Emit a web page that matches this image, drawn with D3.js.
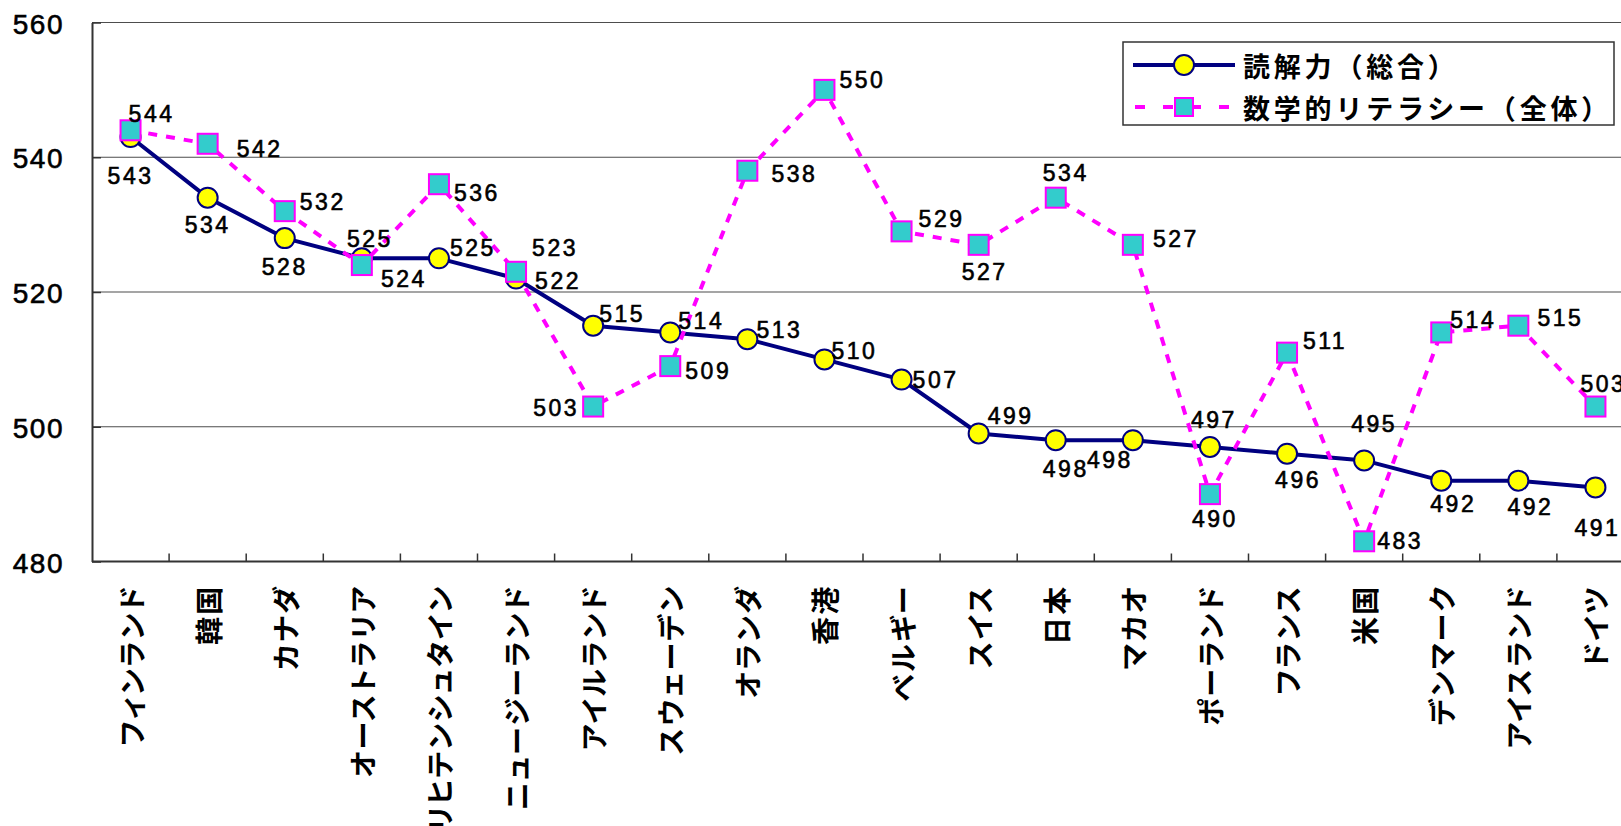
<!DOCTYPE html>
<html>
<head>
<meta charset="utf-8">
<script src="https://cdn.jsdelivr.net/npm/d3@7"></script>
<style>
  html, body { margin: 0; padding: 0; background: #fff; }
  svg { display: block; }
  .cat-label { font-feature-settings: "palt" 1; }
</style>
</head>
<body>
<svg id="chart" width="1621" height="826"></svg>
<script>
// PISA 2003: reading (overall) and mathematical literacy (overall) scores by country
const countries = [
  "フィンランド", "韓国", "カナダ", "オーストラリア", "リヒテンシュタイン",
  "ニュージーランド", "アイルランド", "スウェーデン", "オランダ", "香港",
  "ベルギー", "スイス", "日本", "マカオ", "ポーランド",
  "フランス", "米国", "デンマーク", "アイスランド", "ドイツ"
];
const readingScores = [543, 534, 528, 525, 525, 522, 515, 514, 513, 510,
                       507, 499, 498, 498, 497, 496, 495, 492, 492, 491];
const mathScores = [544, 542, 532, 524, 536, 523, 503, 509, 538, 550,
                    529, 527, 534, 527, 490, 511, 483, 514, 515, 503];
const yTicks = [480, 500, 520, 540, 560];
const seriesNames = ["読解力（総合）", "数学的リテラシー（全体）"];

// Label placement relative to each marker (px), so labels avoid the lines
const readingLabelOffsets = [
  [0, 39], [0, 27], [0, 29], [8, -19], [34, -10], [42, 2], [29, -12], [31, -11],
  [32, -9], [30, -8], [34, 0], [32, -17], [10, 29], [-23, 20], [4, -27], [11, 26],
  [10, -36], [12, 23], [12, 26], [2, 41]
];
const mathLabelOffsets = [
  [21, -16], [52, 5], [38, -9], [42, 14], [38, 9], [39, -24], [-37, 1], [38, 5],
  [47, 3], [38, -10], [40, -12], [6, 27], [10, -25], [43, -6], [5, 25], [38, -12],
  [36, 0], [32, -12], [42, -8], [8, -23]
];

const NAVY = "#000080", MAGENTA = "#FF00FF", YELLOW = "#FFFF00", TEAL = "#33CCCC";
const JP_FONT = "'Noto Sans CJK JP', 'Noto Sans', sans-serif";
const NUM_FONT = "'Liberation Sans', Arial, sans-serif";

const svg = d3.select("#chart");
const plotLeft = 92, bandW = 77.1;
const plotRight = plotLeft + bandW * countries.length;
const plotTop = 22.5, plotBottom = 561.5;

const x = d3.scaleBand().domain(countries).range([plotLeft, plotRight]).padding(0);
const y = d3.scaleLinear().domain([480, 560]).range([plotBottom, plotTop]);
const cx = c => x(c) + x.bandwidth() / 2;

// Horizontal gridlines
svg.append("g")
  .selectAll("line")
  .data(yTicks.filter(t => t !== 480))
  .join("line")
  .attr("x1", plotLeft).attr("x2", 1621)
  .attr("y1", d => y(d)).attr("y2", d => y(d))
  .attr("stroke", "#4d4d4d").attr("stroke-width", 1.2);

// Y axis with inward ticks
const yAxis = d3.axisLeft(y).tickValues(yTicks).tickSizeInner(-9).tickSizeOuter(0).tickPadding(28);
const gy = svg.append("g").attr("transform", `translate(${plotLeft},0)`).call(yAxis);
gy.select(".domain").attr("stroke", "#333").attr("stroke-width", 2);
gy.selectAll(".tick line").attr("stroke", "#333").attr("stroke-width", 1.5);
gy.selectAll(".tick text")
  .attr("font-family", NUM_FONT).attr("font-size", 28).attr("fill", "#000")
  .attr("stroke", "#000").attr("stroke-width", 0.6)
  .attr("letter-spacing", 1.5)
  .attr("dy", "0.38em");

// X axis: tick marks at band boundaries, pointing up
const boundaries = d3.range(1, countries.length).map(i => plotLeft + i * bandW);
svg.append("line")
  .attr("x1", plotLeft).attr("x2", 1621)
  .attr("y1", plotBottom).attr("y2", plotBottom)
  .attr("stroke", "#333").attr("stroke-width", 2);
svg.append("g").selectAll("line").data(boundaries).join("line")
  .attr("x1", d => d).attr("x2", d => d)
  .attr("y1", plotBottom).attr("y2", plotBottom - 8)
  .attr("stroke", "#333").attr("stroke-width", 1.5);

// Category labels, rotated, proportional kana widths
svg.append("g").selectAll("text").data(countries).join("text")
  .attr("class", "cat-label")
  .attr("transform", d => `translate(${cx(d)},${plotBottom + 23}) rotate(-90)`)
  .attr("text-anchor", "end")
  .attr("dominant-baseline", "central")
  .attr("font-family", JP_FONT).attr("font-weight", "bold")
  .attr("font-size", 28).attr("letter-spacing", 2.2)
  .attr("fill", "#000")
  .text(d => d);

// Series data
const readingData = countries.map((c, i) => ({ c, v: readingScores[i], off: readingLabelOffsets[i] }));
const mathData = countries.map((c, i) => ({ c, v: mathScores[i], off: mathLabelOffsets[i] }));

const line = d3.line().x(d => cx(d.c)).y(d => y(d.v));

// Reading: solid navy line with yellow circles
svg.append("path").datum(readingData)
  .attr("d", line).attr("fill", "none")
  .attr("stroke", NAVY).attr("stroke-width", 4).attr("stroke-linejoin", "round");
svg.append("g").selectAll("circle").data(readingData).join("circle")
  .attr("cx", d => cx(d.c)).attr("cy", d => y(d.v)).attr("r", 10)
  .attr("fill", YELLOW).attr("stroke", NAVY).attr("stroke-width", 2);

// Math: dashed magenta line with teal squares
svg.append("path").datum(mathData)
  .attr("d", line).attr("fill", "none")
  .attr("stroke", MAGENTA).attr("stroke-width", 4).attr("stroke-dasharray", "9,9");
const sq = 20;
svg.append("g").selectAll("rect").data(mathData).join("rect")
  .attr("x", d => cx(d.c) - sq / 2).attr("y", d => y(d.v) - sq / 2)
  .attr("width", sq).attr("height", sq)
  .attr("fill", TEAL).attr("stroke", MAGENTA).attr("stroke-width", 2);

// Value labels
function addLabels(data) {
  svg.append("g").selectAll("text").data(data).join("text")
    .attr("x", d => cx(d.c) + d.off[0])
    .attr("y", d => y(d.v) + d.off[1])
    .attr("text-anchor", "middle")
    .attr("dominant-baseline", "central")
    .attr("font-family", NUM_FONT).attr("font-size", 23)
    .attr("stroke", "#000").attr("stroke-width", 0.6)
    .attr("letter-spacing", 2.5)
    .attr("fill", "#000")
    .text(d => d.v);
}
addLabels(readingData);
addLabels(mathData);

// Legend
const lg = svg.append("g");
lg.append("rect")
  .attr("x", 1123).attr("y", 42).attr("width", 491).attr("height", 83)
  .attr("fill", "#fff").attr("stroke", "#333").attr("stroke-width", 1.5);
const legendRows = [
  { name: seriesNames[0], yy: 65, kind: "reading" },
  { name: seriesNames[1], yy: 107, kind: "math" }
];
legendRows.forEach(r => {
  if (r.kind === "reading") {
    lg.append("line").attr("x1", 1133).attr("x2", 1235).attr("y1", r.yy).attr("y2", r.yy)
      .attr("stroke", NAVY).attr("stroke-width", 4);
    lg.append("circle").attr("cx", 1184).attr("cy", r.yy).attr("r", 10)
      .attr("fill", YELLOW).attr("stroke", NAVY).attr("stroke-width", 2);
  } else {
    lg.append("line").attr("x1", 1135).attr("x2", 1235).attr("y1", r.yy).attr("y2", r.yy)
      .attr("stroke", MAGENTA).attr("stroke-width", 4).attr("stroke-dasharray", "10,18");
    lg.append("rect").attr("x", 1175).attr("y", r.yy - 9).attr("width", 18).attr("height", 18)
      .attr("fill", TEAL).attr("stroke", MAGENTA).attr("stroke-width", 2);
  }
  lg.append("text").attr("x", 1243).attr("y", r.yy)
    .attr("dominant-baseline", "central")
    .attr("font-family", JP_FONT).attr("font-weight", "bold")
    .attr("font-size", 27).attr("letter-spacing", 3.8)
    .attr("fill", "#000")
    .text(r.name);
});
</script>
</body>
</html>
